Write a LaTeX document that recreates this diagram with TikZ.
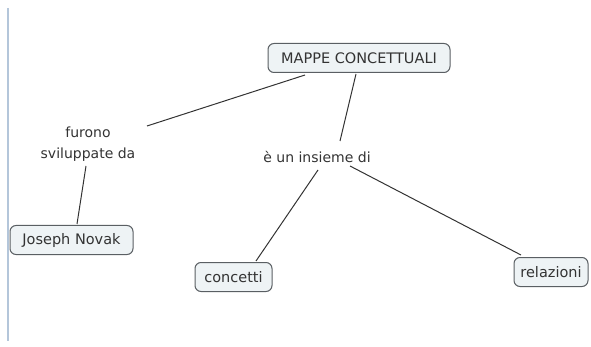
\documentclass[tikz,border=0pt]{standalone}
\usepackage{fontspec}
\setmainfont{DejaVu Sans}
\definecolor{boxfill}{HTML}{EEF3F5}
\definecolor{boxdraw}{HTML}{5A5F63}
\definecolor{linec}{HTML}{333333}
\definecolor{sidebar}{HTML}{B4C6DA}
\begin{document}
\begin{tikzpicture}[x=1pt,y=-1pt,
  concept/.style={draw=boxdraw,fill=boxfill,rounded corners=6pt,line width=1pt,
    font=\fontsize{14.5}{16}\selectfont,text=black!80,inner sep=0pt,minimum height=29pt},
  linklabel/.style={font=\fontsize{14}{21}\selectfont,text=black!80,align=center,inner sep=2pt},
  conn/.style={draw=linec,line width=1pt}]
\useasboundingbox (0,0) rectangle (591,347);
\draw[sidebar,line width=1.2pt] (8,8) -- (8,341);
\node[concept,minimum width=182pt] (mappe) at (359,58) {MAPPE CONCETTUALI};
\node[concept,minimum width=123pt] (novak) at (71.5,240) {Joseph Novak};
\node[concept,minimum width=77pt] (concetti) at (233.5,277) {concetti};
\node[concept,minimum width=74pt] (relazioni) at (551,272) {relazioni};
\node[linklabel] (furono) at (88,144) {furono\\sviluppate da};
\node[linklabel] (insieme) at (317,157) {è un insieme di};
\coordinate (m1) at (305,75);
\coordinate (m2) at (356,74);
\coordinate (f1) at (147,126);
\coordinate (f2) at (86,166);
\coordinate (n1) at (77,224);
\coordinate (i1) at (340,141);
\coordinate (i2) at (318,170);
\coordinate (i3) at (350,166);
\coordinate (c1) at (256,261);
\coordinate (r1) at (521,255);
\draw[conn] (m1) -- (f1);
\draw[conn] (f2) -- (n1);
\draw[conn] (m2) -- (i1);
\draw[conn] (i2) -- (c1);
\draw[conn] (i3) -- (r1);
\end{tikzpicture}
\end{document}
